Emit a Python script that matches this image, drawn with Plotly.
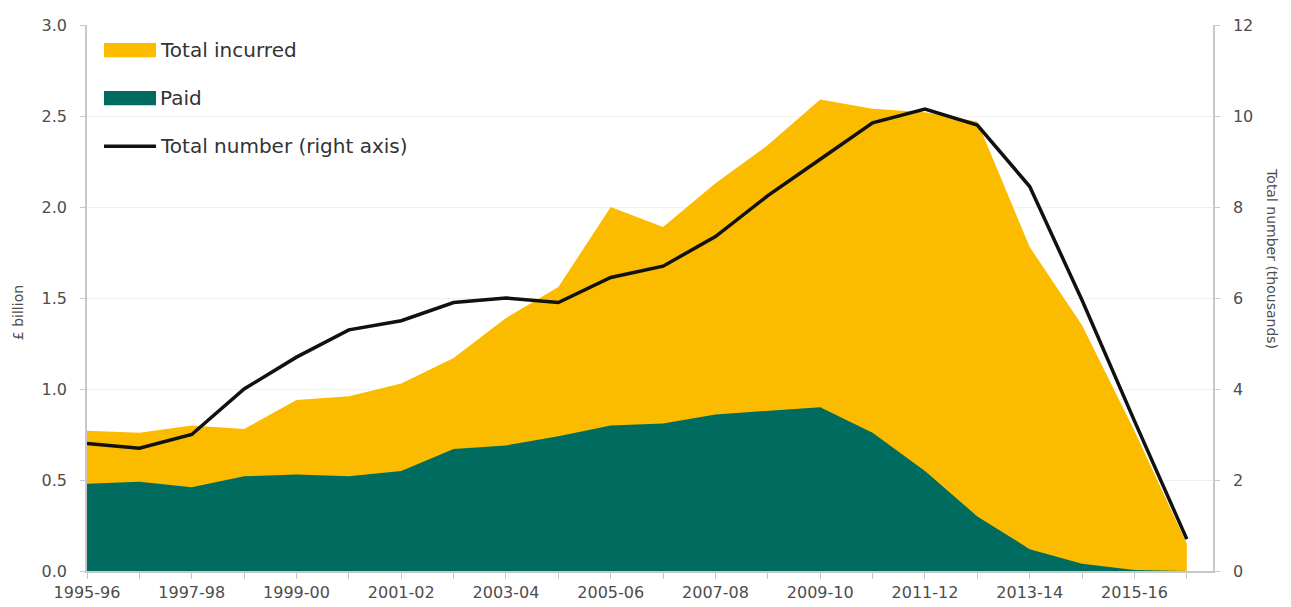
import plotly.graph_objects as go

years = ["1995-96", "1996-97", "1997-98", "1998-99", "1999-00", "2000-01", "2001-02",
         "2002-03", "2003-04", "2004-05", "2005-06", "2006-07", "2007-08", "2008-09",
         "2009-10", "2010-11", "2011-12", "2012-13", "2013-14", "2014-15", "2015-16",
         "2016-17"]
total_incurred = [0.77, 0.76, 0.80, 0.78, 0.94, 0.96, 1.03, 1.17, 1.39, 1.56, 2.00, 1.89,
                  2.13, 2.34, 2.59, 2.54, 2.52, 2.47, 1.78, 1.35, 0.77, 0.15]
paid = [0.48, 0.49, 0.46, 0.52, 0.53, 0.52, 0.55, 0.67, 0.69, 0.74, 0.80, 0.81,
        0.86, 0.88, 0.90, 0.76, 0.55, 0.30, 0.12, 0.04, 0.005, 0.0]
total_number = [2.8, 2.7, 3.0, 4.0, 4.7, 5.3, 5.5, 5.9, 6.0, 5.9, 6.45, 6.7,
                7.35, 8.25, 9.05, 9.85, 10.15, 9.8, 8.45, 5.95, 3.3, 0.7]
tick_text = [y if i % 2 == 0 else "" for i, y in enumerate(years)]

YELLOW = "#FBBC00"
GREEN = "#006B5F"
FONT = "DejaVu Sans"
GRAY_TXT = "#4D4D4D"
AXIS_GRAY = "#C8C8CC"

fig = go.Figure()
fig.add_trace(go.Scatter(x=years, y=total_incurred, mode="lines", fill="tozeroy",
                         fillcolor=YELLOW, line=dict(width=0, color=YELLOW),
                         name="Total incurred", showlegend=False))
fig.add_trace(go.Scatter(x=years, y=paid, mode="lines", fill="tozeroy",
                         fillcolor=GREEN, line=dict(width=0, color=GREEN),
                         name="Paid", showlegend=False))
fig.add_trace(go.Scatter(x=years, y=total_number, mode="lines", yaxis="y2",
                         line=dict(width=3.5, color="#111111"),
                         name="Total number (right axis)", showlegend=False))

# custom legend (paper coordinates)
legend_items = [("Total incurred", "rect", YELLOW, 0.954),
                ("Paid", "rect", GREEN, 0.866),
                ("Total number (right axis)", "line", "#111111", 0.778)]
x0, x1 = 0.0151, 0.0613
for label, kind, col, yy in legend_items:
    if kind == "rect":
        fig.add_shape(type="rect", xref="paper", yref="paper", x0=x0, x1=x1,
                      y0=yy - 0.013, y1=yy + 0.013, fillcolor=col, line_width=0, layer="above")
    else:
        fig.add_shape(type="line", xref="paper", yref="paper", x0=x0, x1=x1,
                      y0=yy, y1=yy, line=dict(color=col, width=3.5), layer="above")
    fig.add_annotation(xref="paper", yref="paper", x=x1 + 0.002, y=yy, text=label,
                       showarrow=False, xanchor="left", yanchor="middle",
                       font=dict(family=FONT, size=20, color="#333333"))

# axis titles
fig.add_annotation(xref="paper", yref="paper", x=-0.0613, y=0.474, text="£ billion",
                   textangle=-90, showarrow=False, xanchor="center", yanchor="middle",
                   font=dict(family=FONT, size=14, color=GRAY_TXT))
fig.add_annotation(xref="paper", yref="paper", x=1.0524, y=0.573,
                   text="Total number (thousands)", textangle=90, showarrow=False,
                   xanchor="center", yanchor="middle",
                   font=dict(family=FONT, size=14, color=GRAY_TXT))

fig.update_layout(
    width=1283, height=599,
    margin=dict(l=79, r=78, t=17, b=36, autoexpand=False),
    paper_bgcolor="white", plot_bgcolor="white",
    font=dict(family=FONT, size=16, color=GRAY_TXT),
    xaxis=dict(type="category", range=[0, 21.5], tickmode="array", tickvals=years,
               ticktext=tick_text, ticks="outside", ticklen=6, tickcolor=AXIS_GRAY,
               showline=True, linecolor=AXIS_GRAY, linewidth=1.5, showgrid=False,
               tickfont=dict(size=16, color=GRAY_TXT), tickangle=0, zeroline=False,
               automargin=False),
    yaxis=dict(range=[0, 3.0], dtick=0.5, tickformat=".1f", ticks="outside", ticklen=5,
               tickcolor=AXIS_GRAY, showline=True, linecolor=AXIS_GRAY, linewidth=1.5,
               showgrid=True, gridcolor="#F1F1F3", gridwidth=1, zeroline=False,
               ticklabelstandoff=10, automargin=False,
               tickfont=dict(size=16, color=GRAY_TXT)),
    yaxis2=dict(range=[0, 12], dtick=2, overlaying="y", side="right", ticks="outside",
                ticklen=5, tickcolor=AXIS_GRAY, showline=True, linecolor=AXIS_GRAY,
                linewidth=1.5, showgrid=False, zeroline=False, ticklabelstandoff=10,
                automargin=False,
                tickfont=dict(size=16, color=GRAY_TXT)),
)

fig.write_html("out.html")
